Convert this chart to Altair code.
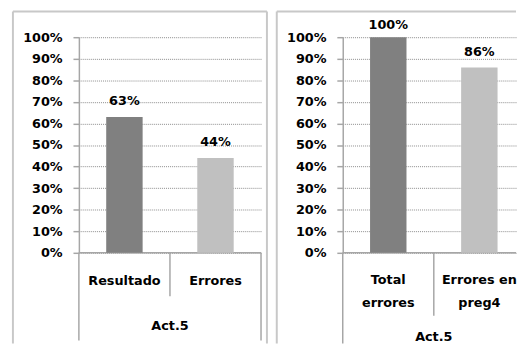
import altair as alt
import pandas as pd

# ---- data ----
left_cats = ["Resultado", "Errores"]
left_vals = [0.63, 0.44]
left_labels = ["Resultado", "Errores"]

right_cats = ["Total errores", "Errores en preg4"]
right_vals = [1.00, 0.86]
right_labels = ["Total\nerrores", "Errores en\npreg4"]

group_label = "Act.5"
bar_colors = ["#808080", "#c0c0c0"]
y_ticks = [0, 0.1, 0.2, 0.3, 0.4, 0.5, 0.6, 0.7, 0.8, 0.9, 1.0]

FONT = "DejaVu Sans"
AXIS_COLOR = "#a6a6a6"
BOX_COLOR = "#c8c8c8"
PLOT_H = 219
STEP_RANGE = 185
BOTTOM = 311


def vrule(x, y1, y2, color=AXIS_COLOR, w=1.5):
    return alt.Chart(alt.Data(values=[{}])).mark_rule(color=color, strokeWidth=w).encode(
        x=alt.value(x), y=alt.value(y1), y2=alt.value(y2))


def hrule(x1, x2, y, color=AXIS_COLOR, w=1.5):
    return alt.Chart(alt.Data(values=[{}])).mark_rule(color=color, strokeWidth=w).encode(
        x=alt.value(x1), x2=alt.value(x2), y=alt.value(y))


def panel(cats, vals, labels, view_w, cat_y, act_y, sep_end, outer_end, right_box, right_outer):
    df = pd.DataFrame({"cat": cats, "val": vals, "label": labels})
    base = alt.Chart(df)
    xenc = alt.X("cat:N", sort=cats, axis=None,
                 scale=alt.Scale(paddingInner=0.6, paddingOuter=0.3, range=[0, STEP_RANGE]))
    yaxis = alt.Axis(values=y_ticks, tickCount=11, format=".0%", grid=True,
                     labelOverlap=False, labelFlush=False,
                     gridDash=[1, 1], gridColor="#8c8c8c", gridWidth=1,
                     domainColor=AXIS_COLOR, domainWidth=1.5,
                     tickColor=AXIS_COLOR, tickSize=6, tickWidth=1.5,
                     labelPadding=11, labelFont=FONT, labelFontWeight="bold",
                     labelFontSize=13, labelColor="black")
    yenc = alt.Y("val:Q", title=None, scale=alt.Scale(domain=[0, 1], nice=False), axis=yaxis)
    bars = base.mark_bar().encode(
        x=xenc, y=yenc,
        color=alt.Color("cat:N", scale=alt.Scale(domain=cats, range=bar_colors), legend=None))
    txt = dict(font=FONT, fontWeight="bold", fontSize=13, color="black", baseline="middle")
    vlabels = base.transform_filter("datum.val < 1").mark_text(dy=-16, **txt).encode(
        x=xenc, y=yenc, text=alt.Text("val:Q", format=".0%"))
    vlabels_top = base.transform_filter("datum.val >= 1").mark_text(dy=-12, **txt).encode(
        x=xenc, y=yenc, text=alt.Text("val:Q", format=".0%"))
    clabels = base.mark_text(lineBreak="\n", lineHeight=23, **txt).encode(
        x=xenc, y=alt.value(cat_y), text="label:N")
    act = alt.Chart(alt.Data(values=[{}])).mark_text(**txt).encode(
        x=alt.value(STEP_RANGE / 2), y=alt.value(act_y), text=alt.value(group_label))
    layers = [
        hrule(0, view_w, PLOT_H),
        vrule(STEP_RANGE / 2, PLOT_H, sep_end),
        vrule(0, PLOT_H, outer_end),
    ]
    if right_outer:
        layers.append(vrule(STEP_RANGE, PLOT_H, outer_end))
    # panel box
    layers += [
        vrule(-67, -26, BOTTOM, BOX_COLOR, 2),
        hrule(-67, right_box, -26, BOX_COLOR, 2),
    ]
    if right_outer:
        layers.append(vrule(right_box, -26, BOTTOM, BOX_COLOR, 2))
    layers += [bars, vlabels, vlabels_top, clabels, act]
    return alt.layer(*layers).properties(width=view_w, height=PLOT_H)


left = panel(left_cats, left_vals, left_labels, 185, 248, 293, 263, 308, 191, True)
right = panel(right_cats, right_vals, right_labels, 176, 247, 305, 283, BOTTOM, 176, False)

chart = alt.hconcat(left, right, spacing=83, bounds="flush").properties(
    padding={"left": 4, "top": 0, "right": 0, "bottom": 0}
).configure_view(stroke=None)

chart.save("out.html", embed_options={"renderer": "svg", "actions": False})
